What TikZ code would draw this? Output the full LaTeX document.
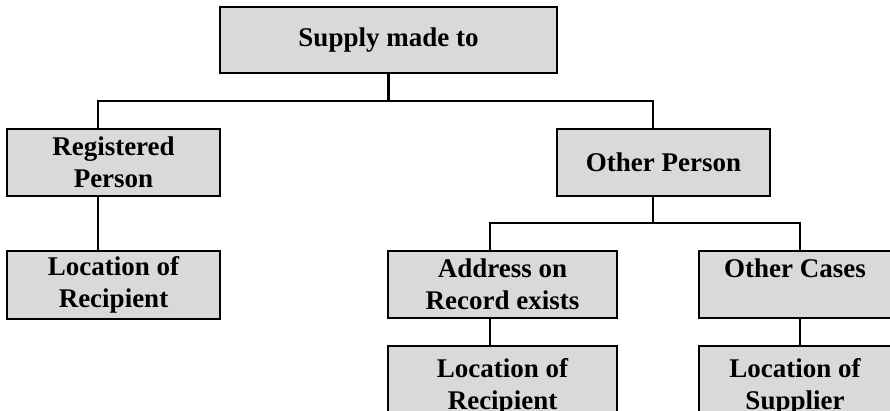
\documentclass[tikz,border=0pt]{standalone}
\usepackage{fontspec}
\setmainfont{Liberation Serif}
\begin{document}
\begin{tikzpicture}[x=1pt,y=1pt,
  box/.style={draw=black, line width=2.6pt, fill=boxgray, inner sep=0pt, align=center,
    font=\fontsize{27}{32}\selectfont\bfseries},
  conn/.style={draw=black, line width=2.4pt}]
\definecolor{boxgray}{HTML}{D9D9D9}
\useasboundingbox (0,0) rectangle (890,410);
\clip (0,0) rectangle (890,410);
\node[box, minimum width=337pt, minimum height=66pt] (top) at (388.5,370) {Supply made to};
\node[box, minimum width=213pt, minimum height=67pt] (rp) at (113.5,247.5) {Registered\\Person};
\node[box, minimum width=213pt, minimum height=68pt] (lr1) at (113.5,125) {Location of\\Recipient};
\node[box, minimum width=213pt, minimum height=67pt] (op) at (663.5,247.5) {Other Person};
\node[box, minimum width=229pt, minimum height=67pt] (addr) at (502.5,125.5) {Address on\\Record exists};
\node[box, minimum width=192pt, minimum height=67pt] (oc) at (795,125.5) {Other Cases\\\mbox{}};
\node[box, minimum width=229pt, minimum height=81pt] (lr2) at (502.5,23.5) {Location of\\Recipient};
\node[box, minimum width=192pt, minimum height=81pt] (ls) at (795,23.5) {Location of\\Supplier};
\coordinate (xrp) at (98,0);
\coordinate (xop) at (653,0);
\coordinate (xa) at (490,0);
\coordinate (xoc) at (800,0);
\coordinate (b1) at (388.5,309);
\coordinate (b2) at (653,187);
\draw[conn] (top.south) -- (b1);
\draw[conn] (rp.north -| xrp) |- (b1) -| (op.north -| xop);
\draw[conn] (rp.south -| xrp) -- (lr1.north -| xrp);
\draw[conn] (op.south -| xop) -- (b2);
\draw[conn] (addr.north -| xa) |- (b2) -| (oc.north -| xoc);
\draw[conn] (addr.south -| xa) -- (lr2.north -| xa);
\draw[conn] (oc.south -| xoc) -- (ls.north -| xoc);
\end{tikzpicture}
\end{document}
